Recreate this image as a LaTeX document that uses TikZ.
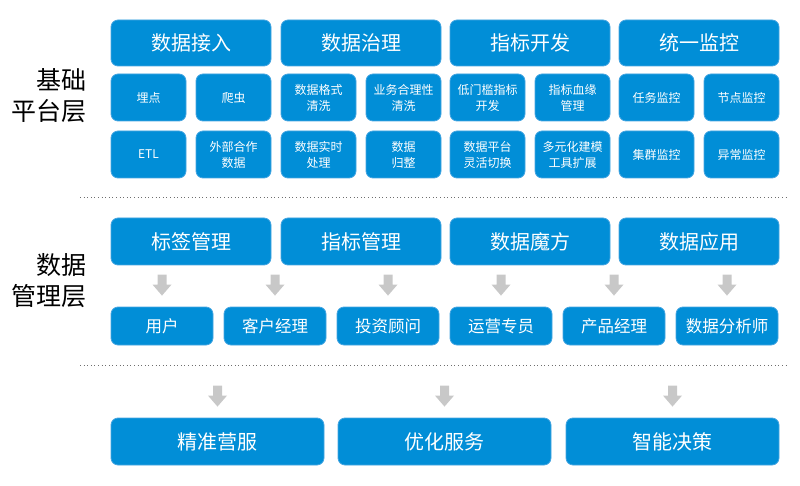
\documentclass[tikz,border=0pt]{standalone}
\usepackage{fontspec}
\setmainfont{Noto Sans CJK SC}
\usepackage{tikz}
\definecolor{boxblue}{RGB}{1,142,215}
\definecolor{boxedge}{RGB}{70,165,225}
\definecolor{arrowgray}{RGB}{200,200,200}
\definecolor{dotgray}{RGB}{110,110,110}
\tikzset{
    bluebox/.style={shape=rectangle, rounded corners=7pt, fill=boxblue, draw=boxedge, line width=0.8pt, text=white, align=center, inner sep=0pt},
    headbox/.style={bluebox, minimum width=160pt, minimum height=46pt, font=\fontsize{20}{24}\selectfont},
    smallbox/.style={bluebox, minimum width=75pt, minimum height=47pt, font=\fontsize{12}{16}\selectfont},
    userbox/.style={bluebox, minimum width=102pt, minimum height=38pt, font=\fontsize{16.5}{20}\selectfont},
    goalbox/.style={bluebox, minimum width=213pt, minimum height=47pt, font=\fontsize{20}{24}\selectfont},
    layerlabel/.style={anchor=east, align=right, font=\fontsize{25}{31}\selectfont},
    separator/.style={dotgray, line width=1pt, dash pattern=on 1pt off 2.6pt},
    downarrow/.pic={\fill[arrowgray] (-4.5,0) -- (4.5,0) -- (4.5,10) -- (9.5,10) -- (0,21) -- (-9.5,10) -- (-4.5,10) -- cycle;}
}

\begin{document}
\begin{tikzpicture}[x=1pt, y=-1pt]
    \useasboundingbox (0,0) rectangle (800,486);

    % base platform layer
    \node[layerlabel] (base) at (90,95.5) {基础\\平台层};

    \node[headbox] (access) at (191,43) {数据接入};
    \node[headbox] (govern) at (361,43) {数据治理};
    \node[headbox] (metric) at (530,43) {指标开发};
    \node[headbox] (monitor) at (699,43) {统一监控};

    \node[smallbox] (track) at (148.5,97.5) {埋点};
    \node[smallbox] (crawl) at (233.5,97.5) {爬虫};
    \node[smallbox] (etl) at (148.5,154.5) {ETL};
    \node[smallbox] (partner) at (233.5,154.5) {外部合作\\数据};

    \node[smallbox] (format) at (318.5,97.5) {数据格式\\清洗};
    \node[smallbox] (logic) at (403.5,97.5) {业务合理性\\清洗};
    \node[smallbox] (realtime) at (318.5,154.5) {数据实时\\处理};
    \node[smallbox] (merge) at (403.5,154.5) {数据\\归整};

    \node[smallbox] (lowbar) at (487.5,97.5) {低门槛指标\\开发};
    \node[smallbox] (lineage) at (572.5,97.5) {指标血缘\\管理};
    \node[smallbox] (switch) at (487.5,154.5) {数据平台\\灵活切换};
    \node[smallbox] (modeling) at (572.5,154.5) {多元化建模\\工具扩展};

    \node[smallbox] (task) at (656.5,97.5) {任务监控};
    \node[smallbox] (host) at (741.5,97.5) {节点监控};
    \node[smallbox] (cluster) at (656.5,154.5) {集群监控};
    \node[smallbox] (abnormal) at (741.5,154.5) {异常监控};

    \draw[separator] (80,198) -- (789,198);

    % data management layer
    \node[layerlabel] (manage) at (90,280.5) {数据\\管理层};

    \node[headbox, minimum height=47pt] (tags) at (191,241.5) {标签管理};
    \node[headbox, minimum height=47pt] (metrics) at (361,241.5) {指标管理};
    \node[headbox, minimum height=47pt] (cube) at (530,241.5) {数据魔方};
    \node[headbox, minimum height=47pt] (apps) at (699,241.5) {数据应用};

    \node[userbox] (user) at (162,326) {用户};
    \node[userbox] (manager) at (275,326) {客户经理};
    \node[userbox] (advisor) at (388,326) {投资顾问};
    \node[userbox] (operator) at (501,326) {运营专员};
    \node[userbox] (product) at (614,326) {产品经理};
    \node[userbox] (analyst) at (727,326) {数据分析师};

    \foreach \n in {user, manager, advisor, operator, product, analyst}
        \pic at ([yshift=32pt]\n.north) {downarrow};

    \draw[separator] (80,365) -- (789,365);

    % goals
    \node[goalbox] (marketing) at (217.5,441.5) {精准营服};
    \node[goalbox] (service) at (444.5,441.5) {优化服务};
    \node[goalbox] (decision) at (672.5,441.5) {智能决策};

    \foreach \n in {marketing, service, decision}
        \pic at ([yshift=32pt]\n.north) {downarrow};

\end{tikzpicture}
\end{document}
